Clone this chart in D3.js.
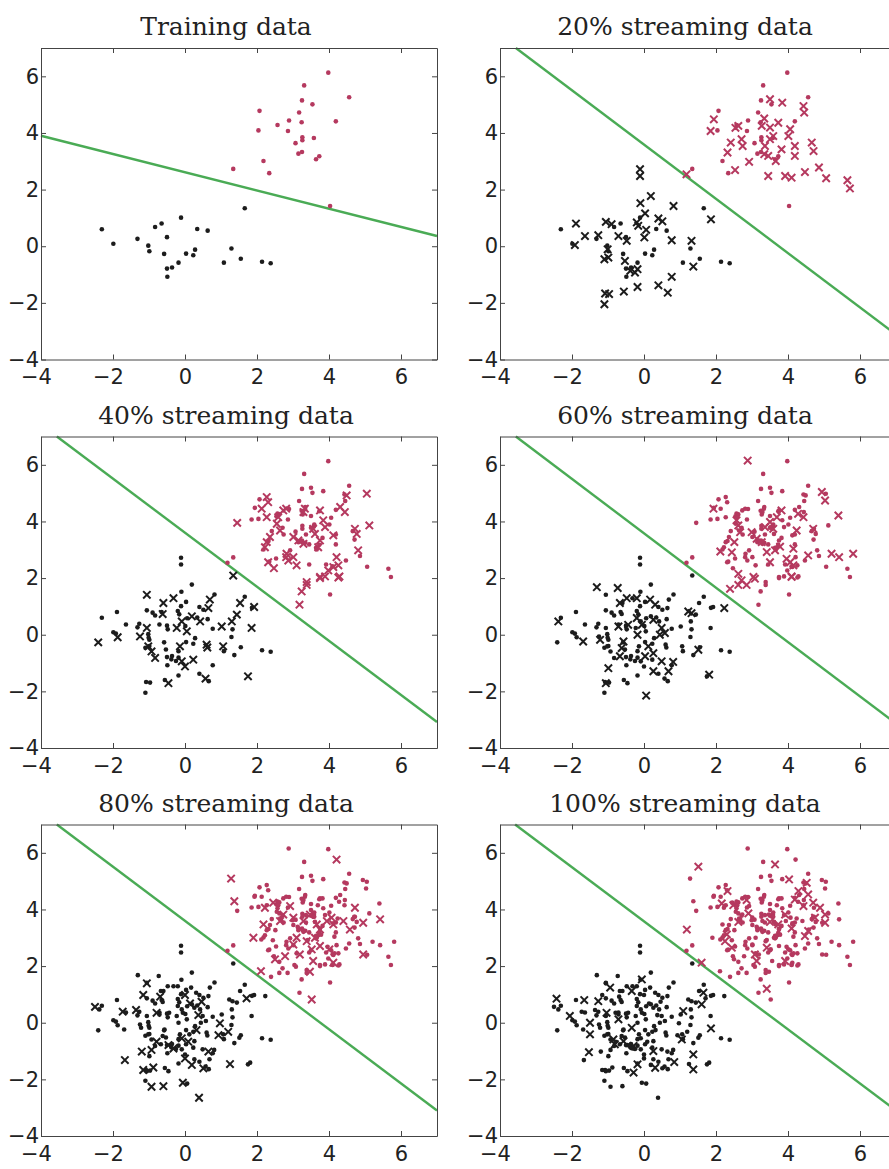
<!DOCTYPE html>
<html>
<head>
<meta charset="utf-8">
<script src="https://cdn.jsdelivr.net/npm/d3@7"></script>
<style>
  body { margin: 0; background: #fff; }
  svg { display: block; }
</style>
</head>
<body>
<div id="chart"></div>
<script>
// panel titles, in reading order
var titles = ["Training data", "20% streaming data", "40% streaming data",
              "60% streaming data", "80% streaming data", "100% streaming data"];

var xTicks = [-4, -2, 0, 2, 4, 6];
var yTicks = [-4, -2, 0, 2, 4, 6];

// decision boundary per panel: two end points [x, y]
var boundaries = [
  [[-4, 3.9], [7, 0.36]],
  [[-3.56, 7], [7, -3.12]],
  [[-3.56, 7], [7, -3.08]],
  [[-3.56, 7], [7, -3.14]],
  [[-3.56, 7], [7, -3.1]],
  [[-3.58, 7], [7, -3.1]]
];

// training set
var trainRed = [[3.98,6.13],[3.31,5.68],[4.56,5.26],[3.25,5.15],[3.54,5.01],[2.07,4.78],[3.17,4.72],
  [2.89,4.44],[3.24,4.38],[4.19,4.41],[2.57,4.28],[2.04,4.09],[2.86,4.07],[3.58,3.82],[3.26,3.85],
  [3.26,3.74],[3.07,3.64],[3.15,3.27],[3.25,3.33],[3.73,3.18],[3.64,3.07],[2.18,3.01],[1.34,2.73],
  [2.34,2.58],[4.03,1.42]];
var trainBlack = [[-2.31,0.6],[-1.99,0.09],[-1.32,0.26],[-1.02,0.02],[-0.99,-0.18],[-0.83,0.68],
  [-0.65,0.8],[-0.5,0.32],[-0.58,-0.27],[-0.5,-0.79],[-0.36,-0.75],[-0.49,-1.08],[-0.18,-0.58],
  [-0.11,1.01],[0.03,-0.26],[0.23,-0.32],[0.28,-0.12],[0.34,0.61],[0.63,0.55],[1.08,-0.58],
  [1.29,-0.08],[1.55,-0.44],[1.66,1.34],[2.14,-0.55],[2.38,-0.6]];

// streaming batches (new points shown as crosses in their own panel)
var red20 = [[1.94,4.48],[1.85,4.07],[2.54,4.18],[2.62,4.25],[2.41,3.66],[2.32,3.31],[2.53,2.69],
  [2.71,3.78],[2.74,3.54],[2.92,2.98],[1.18,2.54],[3.34,4.51],[3.5,5.19],[3.84,5.07],[3.27,4.25],
  [3.5,4.19],[3.59,3.89],[3.5,3.78],[3.36,3.54],[3.34,3.25],[3.45,3.19],[3.66,3.01],[3.73,4.36],
  [3.82,3.42],[4.01,3.89],[4.06,4.13],[4.19,3.54],[4.19,3.19],[3.45,2.48],[3.92,2.48],[4.1,2.42],
  [4.47,2.62],[4.43,4.95],[4.45,4.72],[4.66,3.66],[4.71,3.36],[4.86,2.78],[5.06,2.4],[5.65,2.33],
  [5.72,2.04]];
var black20 = [[-0.11,2.72],[-0.11,2.48],[0.19,1.77],[-1.89,0.8],[-1.92,0.04],[-1.64,0.36],
  [-1.27,0.39],[-1.06,0.86],[-0.9,0.78],[-0.71,0.36],[-0.48,0.19],[-1.01,-0.11],[-0.99,-0.4],
  [-1.1,-0.46],[-0.53,-0.52],[-0.38,-0.87],[-0.25,-0.93],[-0.18,-0.81],[-0.1,1.52],[0.03,1.16],
  [-0.2,0.84],[-0.16,0.72],[0.01,0.31],[0.06,0.58],[0.4,0.98],[0.51,0.88],[0.77,0.21],[0.82,1.42],
  [1.32,0.19],[1.37,-0.72],[1.86,0.95],[0.77,-1.08],[0.4,-1.38],[0.66,-1.64],[-0.18,-1.44],
  [-0.56,-1.6],[-1.08,-1.67],[-0.97,-1.69],[-1.1,-2.05]];

var red40 = [[2.27,4.86],[2.31,4.68],[2.13,4.45],[2.27,4.15],[1.45,3.95],[2.59,4.15],[2.73,4.39],
  [2.81,4.45],[2.55,3.92],[2.64,3.68],[2.36,3.45],[2.27,3.27],[2.22,3.09],[2.82,2.86],[2.81,2.74],
  [2.87,2.62],[3.01,2.74],[3.1,2.45],[2.31,2.56],[2.47,2.35],[3.01,3.45],[3.15,3.33],[3.29,3.21],
  [3.33,4.45],[3.29,4.33],[3.56,3.74],[3.61,3.56],[3.75,4.39],[3.84,4.04],[3.89,3.8],[3.75,3.33],
  [3.7,3.09],[4.12,3.51],[4.31,4.51],[4.44,4.33],[4.49,4.92],[4.72,3.74],[4.77,3.56],[4.81,2.98],
  [5.05,4.98],[5.12,3.86],[4.21,2.74],[4.26,2.45],[4.12,2.39],[3.98,2.27],[3.75,2.04],[3.38,1.86],
  [4.29,2.06],[3.24,1.53],[3.38,1.76],[3.18,1.06],[3.75,2.0],[3.89,2.06],[4.26,2.02]];
var black40 = [[1.34,2.09],[-1.06,1.41],[-0.6,1.12],[-0.32,1.29],[0.69,1.24],[0.65,0.94],[1.53,1.12],
  [1.44,0.71],[1.92,0.98],[1.85,0.24],[1.3,0.47],[1.02,0.29],[0.42,0.47],[0.19,0.65],[-0.09,0.47],
  [-0.23,0.24],[0.05,0.12],[-0.62,0.73],[-1.06,0.24],[-1.25,-0.06],[-1.87,-0.09],[-2.41,-0.27],
  [-1.02,-0.41],[-0.93,-0.59],[-0.83,-0.82],[-0.14,-0.41],[-0.09,-0.94],[0,-1.12],[0.23,-0.88],
  [0.6,-0.35],[0.62,-0.45],[1.06,-0.41],[-0.46,-1.71],[0.57,-1.55],[1.75,-1.47]];

var red60 = [[2.88,6.15],[1.93,4.45],[2.57,4.04],[2.62,3.86],[2.67,3.62],[2.51,3.27],[2.12,2.94],
  [2.44,2.91],[2.62,2.15],[2.71,1.92],[2.99,3.62],[3.13,3.39],[3.27,3.27],[3.04,2.04],[3.36,3.8],
  [3.5,3.98],[3.69,4.15],[3.82,4.39],[3.59,3.74],[3.41,2.92],[3.5,2.56],[3.64,2.98],[3.78,3.11],
  [4.15,3.04],[3.96,2.68],[4.06,2.56],[4.15,2.45],[4.1,2.04],[4.24,3.68],[4.28,4.27],[4.43,4.15],
  [4.7,3.74],[4.56,2.8],[4.94,5.04],[5.03,4.74],[5.4,4.21],[5.21,2.86],[5.42,2.74],[5.81,2.86],
  [2.39,1.62],[2.62,1.76],[2.85,1.76],[3.08,1.98],[4.1,2.06]];
var black60 = [[-1.31,1.68],[-0.73,1.65],[-0.48,1.29],[-0.67,1.12],[-0.2,1.29],[0.17,1.24],[0.31,1.06],
  [1.23,0.82],[1.32,0.76],[2.23,0.94],[-2.38,0.47],[-1.69,-0.24],[-1.22,-0.18],[-0.71,0.29],
  [-0.44,0.35],[-0.2,0.59],[-0.18,0],[-0.06,0.35],[0.26,0.53],[0.49,0.24],[0.58,0.06],[0.44,0],
  [-0.57,-0.24],[-0.62,-0.47],[0.12,-0.41],[0.03,-0.76],[0.26,-0.65],[0.49,-0.94],[0.81,-0.96],
  [0.68,-1.29],[0.26,-1.29],[-0.67,-0.76],[-0.99,-1.18],[-1.06,-1.71],[1.51,-0.53],[1.81,-1.41],
  [0.06,-2.15]];

var red80 = [[4.21,5.76],[1.28,5.09],[1.37,4.29],[2.45,4.24],[2.22,4.06],[2.92,4.12],[2.73,3.82],
  [2.18,3.47],[2.64,3.59],[3.01,3.71],[3.29,3.59],[3.47,3.82],[3.66,3.47],[3.75,3.29],[3.94,3.59],
  [4.07,3.71],[4.12,3.47],[4.4,3.59],[4.72,4.06],[4.95,3.53],[5.42,3.65],[4.58,3.29],[1.9,3.0],
  [3.1,3.0],[3.01,2.76],[3.38,2.88],[3.61,3.0],[3.75,2.71],[3.52,2.59],[3.19,2.41],[2.78,2.35],
  [2.5,2.24],[3.56,2.18],[4.01,2.59],[4.12,2.12],[4.95,2.41],[2.11,1.82],[3.52,0.82],[3.47,1.8]];
var black80 = [[-1.06,1.39],[-1.16,0.98],[-0.69,0.92],[0,0.98],[0.14,0.68],[0.46,0.74],[1.71,0.86],
  [-2.5,0.56],[-1.73,0.39],[-1.36,0.45],[-0.79,0.35],[0.37,0.27],[0.97,-0.02],[1.2,-0.32],
  [0.93,-0.44],[0.32,-0.26],[0.09,-0.67],[-0.09,-0.55],[-0.79,-0.67],[-0.93,-0.96],[-0.46,-0.79],
  [-0.32,-0.91],[-1.2,-1.02],[0.65,-1.02],[0,-1.26],[0.19,-1.49],[0.51,-1.61],[-0.88,-1.58],
  [-1.16,-1.67],[-1.67,-1.32],[1.25,-1.46],[-0.93,-2.26],[-0.6,-2.24],[-0.06,-2.12],[0.39,-2.65]];

var red100 = [[1.51,5.51],[3.64,5.59],[4.03,5.06],[4.52,4.94],[4.29,4.65],[4.56,4.53],[4.19,4.35],
  [4.7,4.24],[4.89,4.06],[4.43,4.12],[2.32,4.65],[2.16,4.21],[2.85,4.33],[2.48,4.15],[2.9,3.86],
  [2.62,3.56],[2.3,3.12],[2.25,2.88],[2.44,2.65],[3.08,2.41],[3.13,2.18],[3.41,2.65],[3.5,3.56],
  [3.73,3.47],[3.92,3.82],[4.1,3.33],[4.47,3.06],[4.56,3.24],[4.75,3.71],[5.03,3.53],[5.03,3.82],
  [1.19,3.29],[1.6,2.12],[3.92,2.18],[3.41,1.2]];
var black100 = [[-2.43,0.85],[-1.66,0.8],[-1.27,0.76],[-0.94,1.24],[-0.34,1.12],[-0.06,1.53],
  [1.65,1.06],[1.6,0.65],[1.09,0.41],[-2.06,0.24],[-1.5,0],[-1.5,-0.41],[-1.04,0.35],[-0.71,0.12],
  [-0.34,-0.18],[-0.85,-0.59],[-0.81,-0.76],[-0.57,-0.65],[-0.29,-0.82],[0.26,-1.0],[1.05,-0.59],
  [1.86,-0.2],[1.37,-1.12],[1.37,-1.65],[0.84,-1.39],[0.31,-1.59],[-0.18,-1.47],[-0.29,-1.76],
  [-1.53,-1.04]];

var redBatches = [trainRed, red20, red40, red60, red80, red100];
var blackBatches = [trainBlack, black20, black40, black60, black80, black100];

var W = 889, H = 1169;
var colLeft = [41, 500], rowTop = [48, 436.5, 824.5];
var pw = 396, ph = 311.5;
var RED = "#b5395f", BLACK = "#1c1c1c", GREEN = "#4aab55";

var svg = d3.select("#chart").append("svg")
  .attr("width", W).attr("height", H);

var crossPath = "M-3.7,-3.7L3.7,3.7M-3.7,3.7L3.7,-3.7";

titles.forEach(function (title, i) {
  var col = i % 2, row = Math.floor(i / 2);
  var g = svg.append("g")
    .attr("transform", "translate(" + colLeft[col] + "," + rowTop[row] + ")");

  var x = d3.scaleLinear().domain([-4, 7]).range([0, pw]);
  var y = d3.scaleLinear().domain([-4, 7]).range([ph, 0]);

  g.append("rect").attr("width", pw).attr("height", ph).attr("fill", "#fff");

  // boundary line
  g.append("line")
    .attr("x1", x(boundaries[i][0][0])).attr("y1", y(boundaries[i][0][1]))
    .attr("x2", x(boundaries[i][1][0])).attr("y2", y(boundaries[i][1][1]))
    .attr("stroke", GREEN).attr("stroke-width", 2.4);

  // earlier data as dots (training panel: training set itself)
  var nOld = i == 0 ? 1 : i;
  for (var k = 0; k < nOld; k++) {
    [[blackBatches[k], BLACK], [redBatches[k], RED]].forEach(function (s) {
      g.append("g").selectAll("circle").data(s[0]).enter().append("circle")
        .attr("cx", function (d) { return x(d[0]); })
        .attr("cy", function (d) { return y(d[1]); })
        .attr("r", 2.3).attr("fill", s[1]);
    });
  }
  // current batch as crosses
  if (i > 0) {
    [[blackBatches[i], BLACK], [redBatches[i], RED]].forEach(function (s) {
      g.append("g").selectAll("path").data(s[0]).enter().append("path")
        .attr("d", crossPath)
        .attr("transform", function (d) { return "translate(" + x(d[0]) + "," + y(d[1]) + ")"; })
        .attr("fill", "none").attr("stroke", s[1]).attr("stroke-width", 2);
    });
  }

  var fmt = function (d) { return d < 0 ? "\u2212" + (-d) : "" + d; };

  // axes, ticks pointing inward
  var bottom = g.append("g").attr("transform", "translate(0," + ph + ")")
    .call(d3.axisBottom(x).tickValues(xTicks).tickSize(-5).tickSizeOuter(0).tickPadding(10).tickFormat(fmt));
  bottom.selectAll("text").attr("dx", function (d) { return d < 0 ? -5 : 0; });
  g.append("g").call(d3.axisTop(x).tickValues(xTicks).tickSize(-5).tickSizeOuter(0).tickFormat(""));
  g.append("g")
    .call(d3.axisLeft(y).tickValues(yTicks).tickSize(-5).tickSizeOuter(0).tickPadding(2).tickFormat(fmt));
  g.append("g").attr("transform", "translate(" + pw + ",0)")
    .call(d3.axisRight(y).tickValues(yTicks).tickSize(-5).tickSizeOuter(0).tickFormat(""));

  g.selectAll(".domain, .tick line").attr("stroke", "#444").attr("stroke-width", 1);
  g.selectAll(".tick text")
    .attr("font-family", "DejaVu Sans, sans-serif").attr("font-size", 21).attr("fill", "#222");

  svg.append("text")
    .attr("x", colLeft[col] + pw / 2 - 13).attr("y", rowTop[row] - 13)
    .attr("text-anchor", "middle")
    .attr("font-family", "DejaVu Serif, serif").attr("font-size", 25).attr("fill", "#222")
    .text(title);
});
</script>
</body>
</html>
